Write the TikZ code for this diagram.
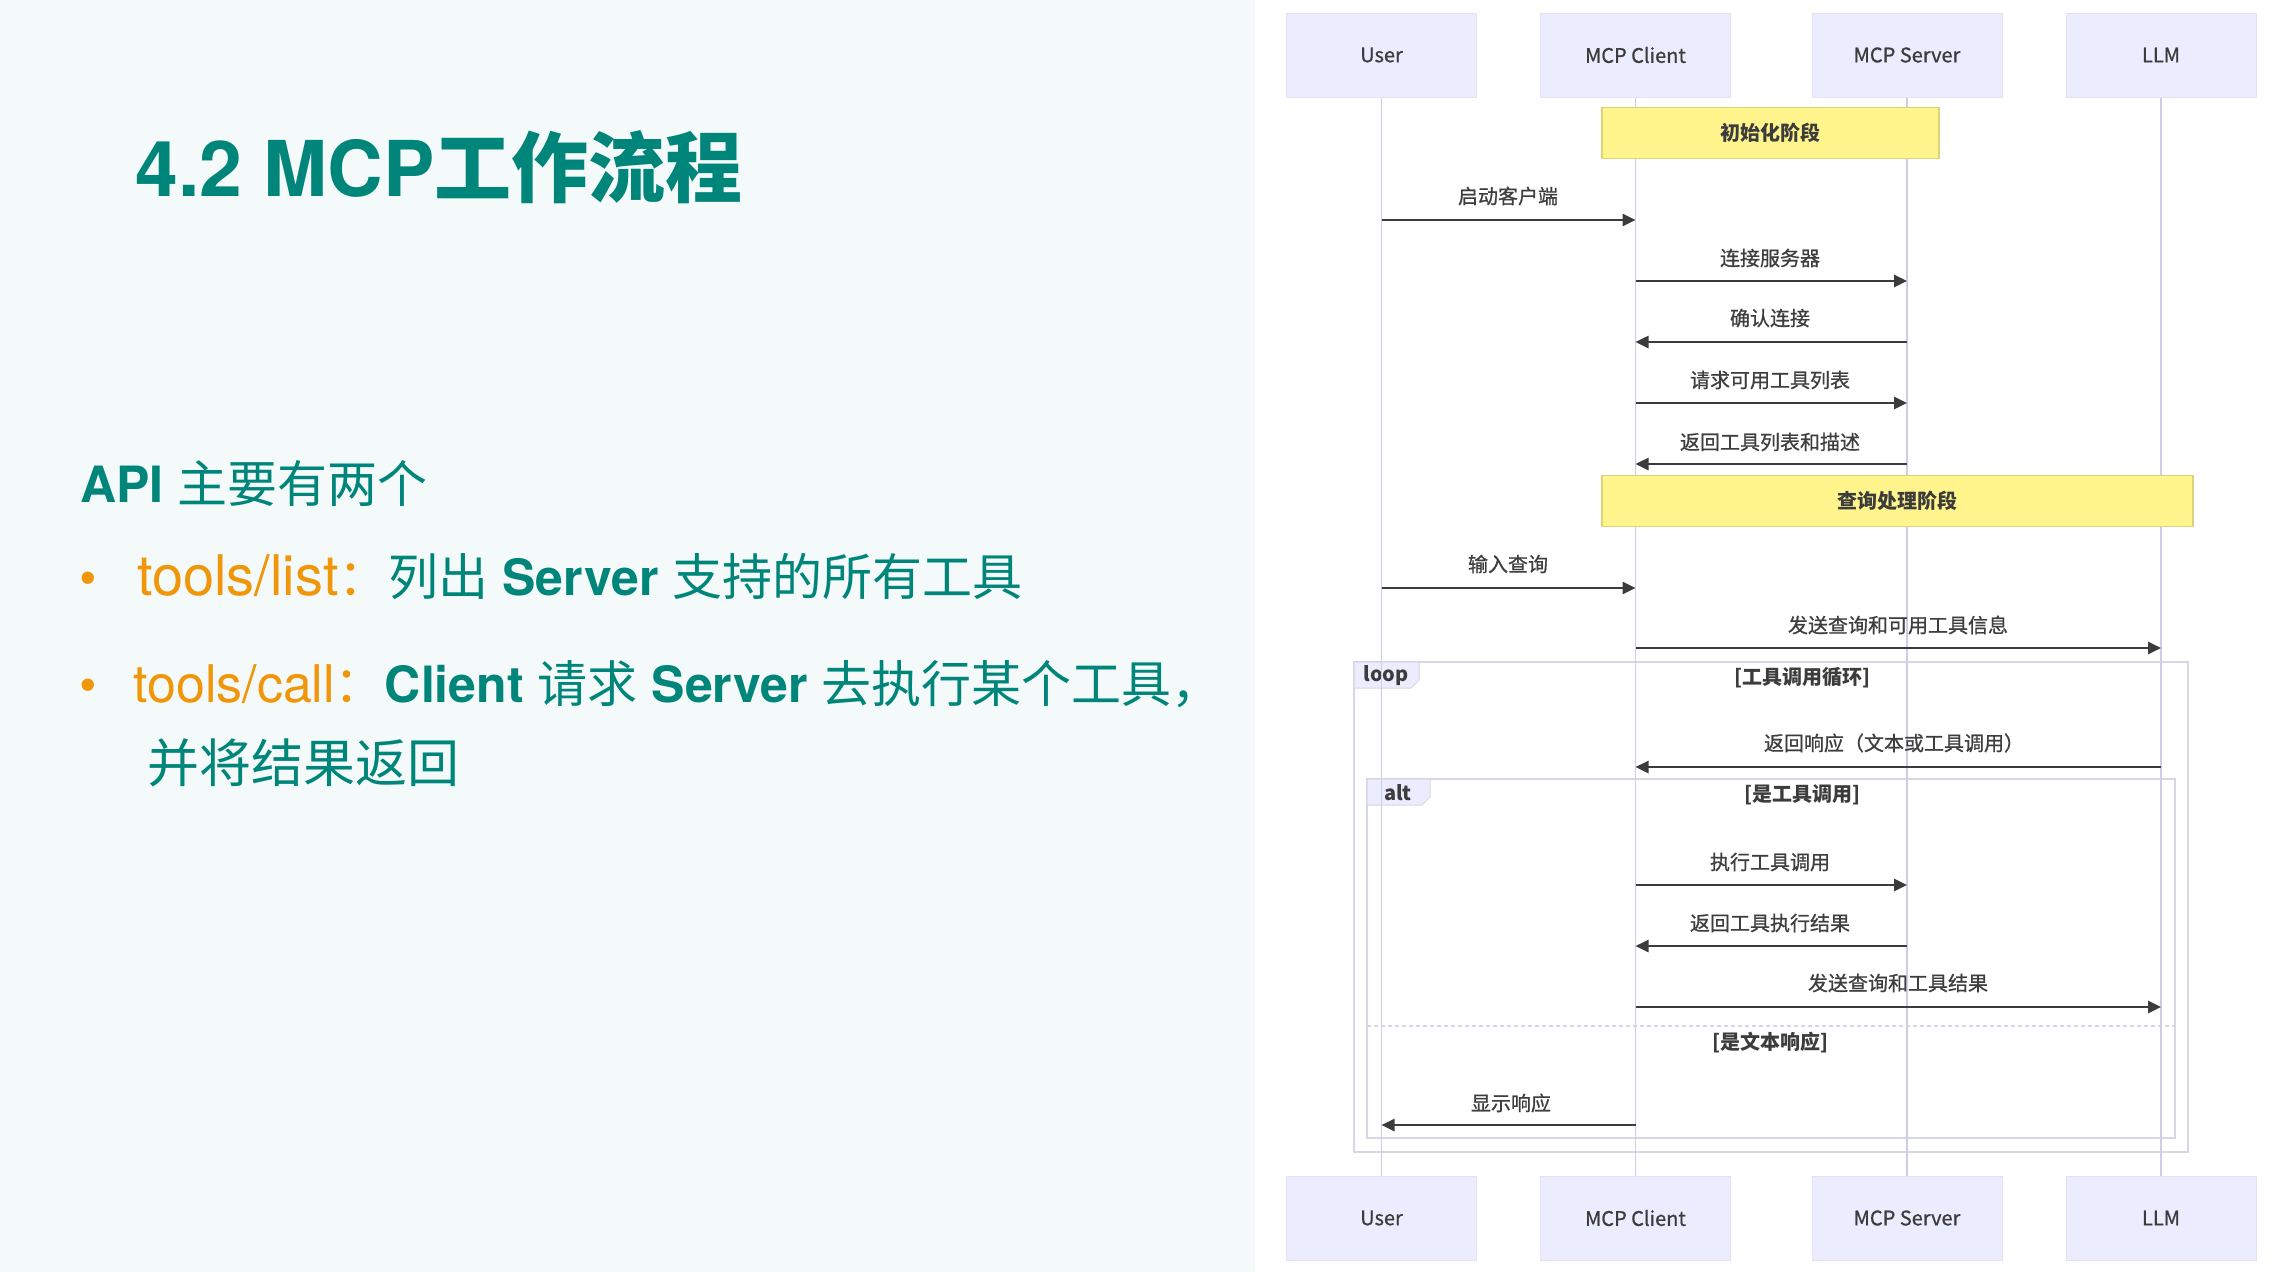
\documentclass[tikz,border=0pt]{standalone}
\usepackage{fontspec}
\setmainfont{TeX Gyre Heros}
\newfontfamily\cjk{Noto Sans CJK SC}
\newfontfamily\cjkd[FakeBold=0.8]{Noto Sans CJK SC}
\usetikzlibrary{arrows.meta}
\definecolor{tealA}{HTML}{00857A}
\definecolor{orangeA}{HTML}{F0960A}
\definecolor{leftbg}{HTML}{F4FAF9}
\definecolor{actfill}{HTML}{ECECFF}
\definecolor{actdraw}{HTML}{E2E2F4}
\definecolor{lifec}{HTML}{CDCDE8}
\definecolor{notefill}{HTML}{FFF58C}
\definecolor{notedraw}{HTML}{DCD37A}
\definecolor{msgc}{HTML}{3C3C3C}
\definecolor{labc}{HTML}{3E3E3E}
\definecolor{framec}{HTML}{D6D6E4}
\begin{document}
\begin{tikzpicture}[x=1pt,y=-1pt,
  actor/.style={draw=actdraw, fill=actfill, line width=1pt, minimum width=190pt, minimum height=84pt, inner sep=0pt, font=\cjkd\fontsize{20}{24}\selectfont, text=msgc},
  life/.style={draw=lifec, line width=1.6pt},
  note/.style={draw=notedraw, fill=notefill, line width=1.2pt, inner sep=0pt, font=\cjk\fontsize{20}{24}\selectfont\bfseries, text=msgc},
  msg/.style={draw=msgc, line width=2.6pt, -{Triangle[length=13pt,width=12pt]}},
  lab/.style={inner sep=0pt, font=\cjkd\fontsize{20}{24}\selectfont, text=labc},
  cond/.style={inner sep=0pt, font=\cjk\fontsize{20}{24}\selectfont\bfseries, text=msgc},
  frame/.style={draw=framec, line width=1.4pt},
  tab/.style={draw=framec, fill=actfill, line width=1pt},
  tabtext/.style={inner sep=0pt, font=\cjk\fontsize{20}{24}\selectfont\bfseries, text=msgc},
  body/.style={anchor=base west, inner sep=0pt, text=tealA, font=\fontsize{50}{60}\selectfont}
]
\useasboundingbox (0,0) rectangle (2296,1272);
\fill[white] (0,0) rectangle (2296,1272);
\fill[leftbg] (0,0) rectangle (1255,1272);

% ---------- left text ----------
\node[anchor=base west, inner sep=0pt, text=tealA, font=\fontsize{77}{90}\selectfont\bfseries] (title) at (135,196) {4.2 MCP{\cjk 工作流程}};
\node[body] (api) at (80,502) {{\bfseries API} {\cjk 主要有两个}};
\node[anchor=base, inner sep=0pt, text=orangeA, font=\fontsize{50}{60}\selectfont] (b1) at (88,595) {•};
\node[body] (t1) at (137,595) {{\color{orangeA}{\fontsize{56}{60}\selectfont tools/list}{\cjk ：}}{\cjk 列出} {\bfseries Server} {\cjk 支持的所有工具}};
\node[anchor=base, inner sep=0pt, text=orangeA, font=\fontsize{50}{60}\selectfont] (b2) at (88,702) {•};
\node[body] (t2) at (133,702) {{\color{orangeA}{\fontsize{52}{60}\selectfont tools/call}{\cjk ：}}{\bfseries Client} {\cjk 请求} {\bfseries Server} {\cjk 去执行某个工具，}};
\node[body] (t3) at (147,782) {{\cjk\fontsize{52}{60}\selectfont 并将结果返回}};

% ---------- frames ----------
\draw[frame] (1354,662) rectangle (2188,1152);
\draw[frame] (1367,779) rectangle (2175,1138);
\draw[frame, dashed, dash pattern=on 4pt off 3pt] (1367,1026) -- (2175,1026);
\draw[tab] (1354,662) -- (1419,662) -- (1419,680) -- (1411,688) -- (1354,688) -- cycle;
\draw[tab] (1367,779) -- (1430,779) -- (1430,797) -- (1422,805) -- (1367,805) -- cycle;
\node[tabtext] (looplab) at (1386,676) {loop};
\node[tabtext] (altlab) at (1398,793) {alt};
\node[cond] (c1) at (1802,678) {[工具调用循环]};
\node[cond] (c2) at (1802,795) {[是工具调用]};
\node[cond] (c3) at (1770,1043) {[是文本响应]};

% ---------- actors ----------
\node[actor] (uT) at (1381.5,55) {User};
\node[actor] (cT) at (1635.5,55) {MCP Client};
\node[actor] (sT) at (1907,55) {MCP Server};
\node[actor] (lT) at (2161,55) {LLM};
\node[actor] (uB) at (1381.5,1218) {User};
\node[actor] (cB) at (1635.5,1218) {MCP Client};
\node[actor] (sB) at (1907,1218) {MCP Server};
\node[actor] (lB) at (2161,1218) {LLM};
\draw[life] (uT) -- (uB);
\draw[life] (cT) -- (cB);
\draw[life] (sT) -- (sB);
\draw[life] (lT) -- (lB);

% ---------- notes ----------
\node[note, minimum width=337pt, minimum height=51pt] (n1) at (1770.5,133) {初始化阶段};
\node[note, minimum width=591pt, minimum height=51pt] (n2) at (1897.5,501) {查询处理阶段};

% ---------- messages ----------
\draw[msg] (uT |- 0,220) -- (cT |- 0,220);
\node[lab] (l1) at (1508,196) {启动客户端};
\draw[msg] (cT |- 0,281) -- (sT |- 0,281);
\node[lab] (l2) at (1770,258) {连接服务器};
\draw[msg] (sT |- 0,342) -- (cT |- 0,342);
\node[lab] (l3) at (1770,318) {确认连接};
\draw[msg] (cT |- 0,403) -- (sT |- 0,403);
\node[lab] (l4) at (1770,380) {请求可用工具列表};
\draw[msg] (sT |- 0,464) -- (cT |- 0,464);
\node[lab] (l5) at (1770,442) {返回工具列表和描述};
\draw[msg] (uT |- 0,588) -- (cT |- 0,588);
\node[lab] (l6) at (1508,564) {输入查询};
\draw[msg] (cT |- 0,648) -- (lT |- 0,648);
\node[lab] (l7) at (1898,625) {发送查询和可用工具信息};
\draw[msg] (lT |- 0,767) -- (cT |- 0,767);
\node[lab] (l8) at (1894,743) {返回响应（文本或工具调用）};
\draw[msg] (cT |- 0,885) -- (sT |- 0,885);
\node[lab] (l9) at (1770,862) {执行工具调用};
\draw[msg] (sT |- 0,946) -- (cT |- 0,946);
\node[lab] (l10) at (1770,923) {返回工具执行结果};
\draw[msg] (cT |- 0,1007) -- (lT |- 0,1007);
\node[lab] (l11) at (1898,983) {发送查询和工具结果};
\draw[msg] (cT |- 0,1125) -- (uT |- 0,1125);
\node[lab] (l12) at (1511,1103) {显示响应};
\end{tikzpicture}
\end{document}
